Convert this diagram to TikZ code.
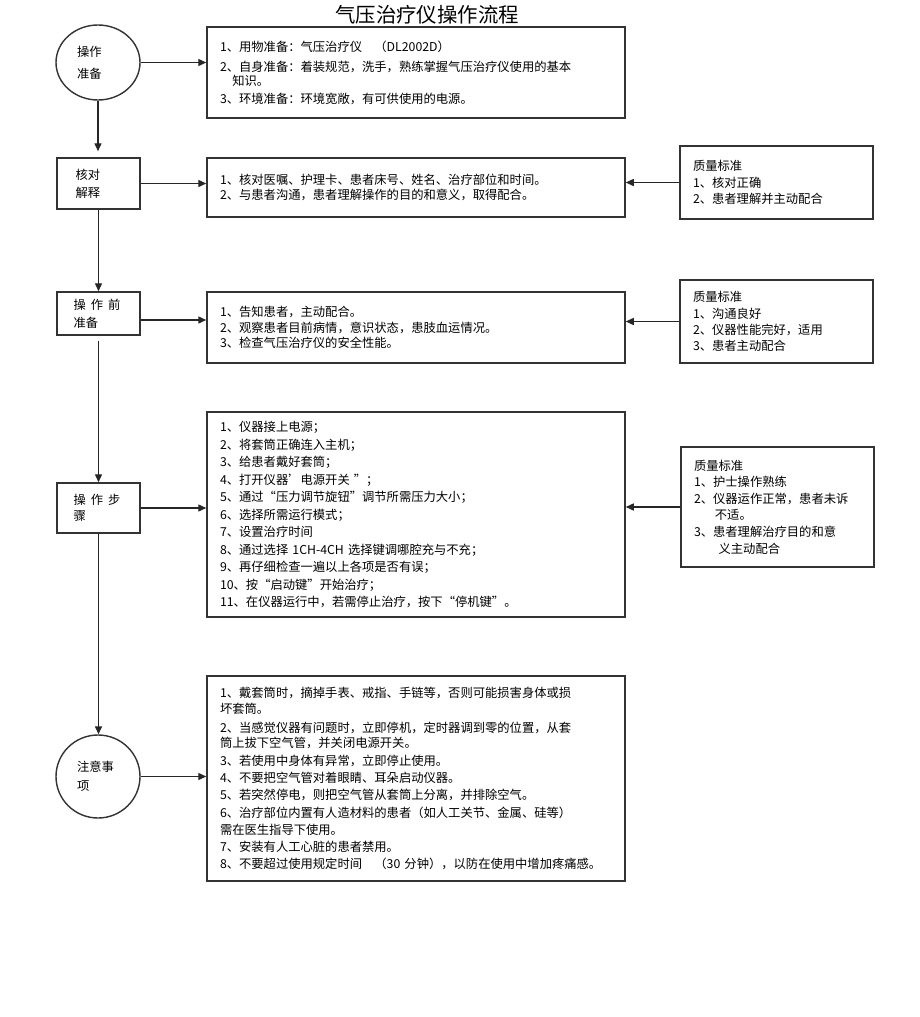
\documentclass[tikz,border=0pt]{standalone}
\usepackage{fontspec}
\setmainfont{Noto Sans CJK SC}
\usetikzlibrary{arrows.meta,shapes.geometric}
\begin{document}
\begin{tikzpicture}[x=1pt,y=-1pt,
  ln/.style={draw=black!85, line width=1.4pt},
  arr/.style={ln, -{Triangle[length=8pt,width=7pt]}},
  txtbox/.style={draw=black!80, line width=1.5pt, rectangle, inner xsep=13pt, inner ysep=0pt, align=left, font=\fontsize{12.3}{17}\selectfont},
  leftbox/.style={draw=black!80, line width=1.5pt, rectangle, inner xsep=16.5pt, inner ysep=0pt, text width=50pt, align=left, minimum width=83pt, font=\fontsize{12.3}{18}\selectfont},
  oval/.style={draw=black!80, line width=1.4pt, ellipse, inner sep=0pt, text width=42pt, align=left, minimum width=84pt, font=\fontsize{12.3}{22}\selectfont},
]
\fill[white] (0,0) rectangle (920,1017);
\useasboundingbox (0,0) rectangle (920,1017);

\node[font=\fontsize{20.4}{24}\selectfont] (title) at (427,15) {气压治疗仪操作流程};

% left column
\node[oval, minimum height=75pt] (c1) at (98,62.5) {操作\\准备};
\node[leftbox, minimum height=51pt] (b2) at (98.5,183.5) {\hspace{2pt}核对\\\hspace{2pt}解释};
\node[leftbox, minimum height=43pt] (b4) at (98.5,313.5) {操\hspace{5pt}作\hspace{5pt}前\\准备};
\node[leftbox, minimum height=50pt] (b6) at (98.5,508) {操\hspace{5pt}作\hspace{5pt}步\\[-2pt]骤};
\node[oval, minimum height=83pt, font=\fontsize{12.3}{19}\selectfont] (c2) at (98,776.5) {注意事\\项};

% middle column
\node[txtbox, text width=392pt, minimum height=91pt] (b1) at (416,72.5) {%
1、用物准备：气压治疗仪\quad（DL2002D）\\[3pt]
2、自身准备：着装规范，洗手，熟练掌握气压治疗仪使用的基本\\[-3pt]
\hspace{1em}知识。\\[1pt]
3、环境准备：环境宽敞，有可供使用的电源。};

\node[txtbox, text width=392pt, minimum height=59pt] (b3) at (416,187.5) {%
1、核对医嘱、护理卡、患者床号、姓名、治疗部位和时间。\\[-2pt]
2、与患者沟通，患者理解操作的目的和意义，取得配合。};

\node[txtbox, text width=392pt, minimum height=71pt] (b5) at (416,327.5) {%
1、告知患者，主动配合。\\[-1.5pt]
2、观察患者目前病情，意识状态，患肢血运情况。\\[-1.5pt]
3、检查气压治疗仪的安全性能。};

\node[txtbox, text width=392pt, minimum height=205pt, font=\fontsize{12.3}{17.5}\selectfont] (b7) at (416,514.5) {%
1、仪器接上电源；\\
2、将套筒正确连入主机；\\
3、给患者戴好套筒；\\
4、打开仪器’电源开关 ”；\\
5、通过“压力调节旋钮”调节所需压力大小；\\
6、选择所需运行模式；\\
7、设置治疗时间\\
8、通过选择 1CH-4CH 选择键调哪腔充与不充；\\
9、再仔细检查一遍以上各项是否有误；\\
10、按“启动键”开始治疗；\\
11、在仪器运行中，若需停止治疗，按下“停机键”。};

\node[txtbox, text width=392pt, minimum height=205pt] (b8) at (416,778.5) {%
1、戴套筒时，摘掉手表、戒指、手链等，否则可能损害身体或损\\[-1pt]
坏套筒。\\[2pt]
2、当感觉仪器有问题时，立即停机，定时器调到零的位置，从套\\[-2pt]
筒上拔下空气管，并关闭电源开关。\\[1pt]
3、若使用中身体有异常，立即停止使用。\\
4、不要把空气管对着眼睛、耳朵启动仪器。\\
5、若突然停电，则把空气管从套筒上分离，并排除空气。\\[1pt]
6、治疗部位内置有人造材料的患者（如人工关节、金属、硅等）\\
需在医生指导下使用。\\
7、安装有人工心脏的患者禁用。\\
8、不要超过使用规定时间\quad（30 分钟），以防在使用中增加疼痛感。};

% right column
\node[txtbox, text width=167pt, minimum height=73pt, font=\fontsize{12.3}{16.5}\selectfont] (q1) at (776.5,182.5) {%
质量标准\\
1、核对正确\\
2、患者理解并主动配合};

\node[txtbox, text width=167pt, minimum height=83pt, font=\fontsize{12.3}{16.3}\selectfont] (q2) at (776.5,321.5) {%
质量标准\\
1、沟通良好\\
2、仪器性能完好，适用\\
3、患者主动配合};

\node[txtbox, text width=167pt, minimum height=120pt, font=\fontsize{12.3}{16.6}\selectfont] (q3) at (777.5,507) {%
质量标准\\
1、护士操作熟练\\
2、仪器运作正常，患者未诉\\
\hspace{1.7em}不适。\\
3、患者理解治疗目的和意\\
\hspace{2em}义主动配合};

% connectors
\draw[arr] (c1.east) -- (c1.east -| b1.west);
\draw[arr, shorten >=6pt] (c1.south) -- (c1.south |- b2.north);
\draw[arr] (b2.east) -- (b2.east -| b3.west);
\draw[arr] (q1.west) -- (q1.west -| b3.east);
\draw[arr] (b2.south) -- (b2.south |- b4.north);
\draw[arr] ([yshift=-6.5pt]b4.east) -- ([yshift=-6.5pt]b4.east -| b5.west);
\draw[arr] (q2.west) -- (q2.west -| b5.east);
\draw[arr, shorten <=5pt] (b4.south) -- (b4.south |- b6.north);
\draw[arr] (b6.east) -- (b6.east -| b7.west);
\draw[arr] (q3.west) -- (q3.west -| b7.east);
\draw[arr] (b6.south) -- (b6.south |- c2.north);
\draw[arr] (c2.east) -- (c2.east -| b8.west);
\end{tikzpicture}
\end{document}
